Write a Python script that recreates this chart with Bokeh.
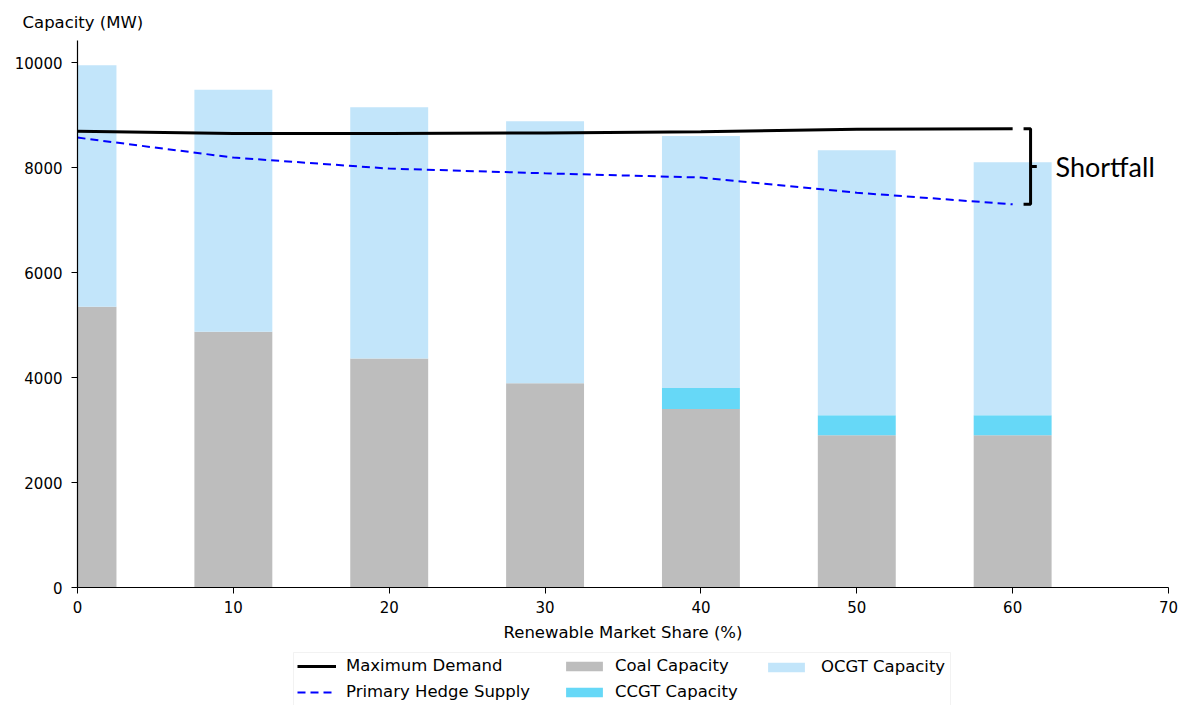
from bokeh.plotting import figure
from bokeh.models import (ColumnDataSource, Legend, LegendItem, Label, Range1d,
                          FixedTicker, BoxAnnotation)
from bokeh.layouts import column
from bokeh.embed import file_html
from bokeh.resources import INLINE

# Renewable market share scenarios (%)
share = [0, 10, 20, 30, 40, 50, 60]

# Installed capacity by technology (MW)
coal_capacity = [5350, 4870, 4360, 3890, 3400, 2900, 2900]
ccgt_capacity = [0, 0, 0, 0, 400, 380, 380]
total_capacity = [9950, 9480, 9150, 8880, 8600, 8330, 8100]
ocgt_capacity = [t - c - g for t, c, g in zip(total_capacity, coal_capacity, ccgt_capacity)]

# Demand and hedge supply (MW)
max_demand = [8690, 8650, 8650, 8660, 8680, 8730, 8740]
hedge_supply = [8570, 8190, 7980, 7890, 7810, 7520, 7300]

x_ticks = [0, 10, 20, 30, 40, 50, 60, 70]
y_ticks = [0, 2000, 4000, 6000, 8000, 10000]

FONT = "DejaVu Sans"
COAL, CCGT, OCGT = "#bdbdbd", "#66d8f7", "#c2e5fa"
DEMAND_STYLE = dict(line_color="black", line_width=3)
HEDGE_STYLE = dict(line_color="blue", line_width=2, line_dash="8 5")

src = ColumnDataSource(dict(share=share, coal=coal_capacity,
                            ccgt=ccgt_capacity, ocgt=ocgt_capacity,
                            demand=max_demand, hedge=hedge_supply))

# ---- main chart -----------------------------------------------------------
p = figure(width=1185, height=650, output_backend="svg", toolbar_location=None,
           x_range=Range1d(0, 70), y_range=Range1d(0, 10420),
           min_border_left=77, min_border_right=17,
           min_border_top=40, min_border_bottom=63,
           title="Capacity (MW)")
p.outline_line_color = None
p.grid.visible = False

# y-axis caption shown as a left-aligned title above the frame
p.title.align = "left"
p.title.offset = -55
p.title.text_font = FONT
p.title.text_font_size = "16.5px"
p.title.text_font_style = "normal"
p.title.text_color = "black"
p.title.standoff = 18

p.vbar_stack(["coal", "ccgt", "ocgt"], x="share", width=5, source=src,
             color=[COAL, CCGT, OCGT], line_color=None)
p.line(x="share", y="demand", source=src, **DEMAND_STYLE)
p.line(x="share", y="hedge", source=src, **HEDGE_STYLE)

# Bracket spanning the gap between demand and hedge supply at the last point
top = max_demand[-1]
bottom = hedge_supply[-1]
mid = (top + bottom) / 2
p.line([60.7, 61.15, 61.15, 60.7], [top, top, bottom, bottom],
       line_color="black", line_width=3)
p.line([61.15, 61.55], [mid, mid], line_color="black", line_width=3)
p.add_layout(Label(x=62.75, y=mid, text="Shortfall", text_font="Lato",
                   text_font_size="27px", text_baseline="middle",
                   text_align="left", text_color="black"))

for ax in (p.xaxis[0], p.yaxis[0]):
    ax.axis_line_color = "black"
    ax.axis_line_width = 1.2
    ax.major_tick_in = 0
    ax.major_tick_out = 6
    ax.minor_tick_line_color = None
    ax.major_label_text_font = FONT
    ax.major_label_text_font_size = "15px"
    ax.major_label_text_color = "black"

p.xaxis.ticker = FixedTicker(ticks=x_ticks)
p.yaxis.ticker = FixedTicker(ticks=y_ticks)
p.xaxis.major_label_standoff = 7
p.yaxis.major_label_standoff = 9
p.xaxis.axis_label = "Renewable Market Share (%)"
p.xaxis.axis_label_text_font = FONT
p.xaxis.axis_label_text_font_size = "16.5px"
p.xaxis.axis_label_text_font_style = "normal"
p.xaxis.axis_label_text_color = "black"
p.xaxis.axis_label_standoff = 7

# ---- legend strip below the chart ----------------------------------------
# Same horizontal borders as the chart so both frames line up. The key glyphs
# reuse the chart's data and styles but are hidden; only their legend swatches
# are drawn (click_policy "none" keeps the swatches fully opaque).
lg = figure(width=1185, height=55, output_backend="svg", toolbar_location=None,
            x_axis_location=None, y_axis_location=None,
            x_range=Range1d(0, 70), y_range=Range1d(0, 10420),
            min_border_left=77, min_border_right=17,
            min_border_top=0, min_border_bottom=0)
lg.grid.visible = False
lg.outline_line_color = None
lg.border_fill_color = "white"

key_demand = lg.line(x="share", y="demand", source=src, visible=False, **DEMAND_STYLE)
key_hedge = lg.line(x="share", y="hedge", source=src, visible=False, **HEDGE_STYLE)
key_coal = lg.vbar(x="share", top="coal", width=5, source=src, visible=False,
                   color=COAL, line_color=None)
key_ccgt = lg.vbar(x="share", top="ccgt", width=5, source=src, visible=False,
                   color=CCGT, line_color=None)
key_ocgt = lg.vbar(x="share", top="ocgt", width=5, source=src, visible=False,
                   color=OCGT, line_color=None)

# legend frame
lg.add_layout(BoxAnnotation(left=216, right=873, bottom=-5, top=53,
                            left_units="screen", right_units="screen",
                            top_units="screen", bottom_units="screen",
                            fill_alpha=0, line_color="#d4d4d4", line_width=1))

common = dict(label_text_font=FONT, label_text_font_size="16.5px",
              label_text_color="black", label_height=18, spacing=7,
              padding=0, margin=0, border_line_color=None,
              background_fill_alpha=0, orientation="vertical",
              click_policy="none", inactive_fill_alpha=0)

columns_spec = [
    ([("Maximum Demand", key_demand), ("Primary Hedge Supply", key_hedge)],
     (220, 4), 39, 10, 10),
    ([("Coal Capacity", key_coal), ("CCGT Capacity", key_ccgt)],
     (484, 4), 46, 12, 8),
    ([("OCGT Capacity", key_ocgt)],
     (686, 29), 46, 12, 12),
]
for entries, loc, gw, gh, standoff in columns_spec:
    leg = Legend(items=[LegendItem(label=t, renderers=[r]) for t, r in entries],
                 location=loc, glyph_width=gw, glyph_height=gh,
                 label_standoff=standoff, **common)
    lg.add_layout(leg, "center")

layout = column(p, lg, spacing=0)
open("out.html", "w").write(file_html(layout, INLINE))
